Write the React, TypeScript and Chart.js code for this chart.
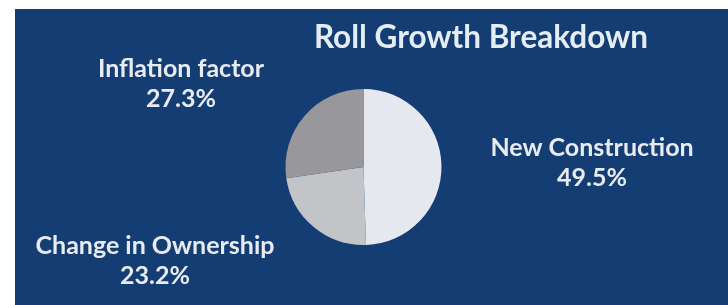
import React, { useEffect, useRef } from "react";
import { Chart, registerables } from "chart.js";

Chart.register(...registerables);

const titleText = "Roll Growth Breakdown";
const categories = ["New Construction", "Change in Ownership", "Inflation factor"];
const shares = [49.5, 23.2, 27.3];
const sliceColors = ["#e5e8ee", "#c3c4c8", "#98979c"];
// label anchor (center of the two-line label) per category
const labelAnchors = [
  { x: 592, y: 162 },
  { x: 155, y: 260 },
  { x: 181, y: 83 },
];

const panelPlugin = {
  id: "panel",
  beforeDraw(chart: any) {
    const { ctx, width, height } = chart;
    ctx.save();
    ctx.fillStyle = "#ffffff";
    ctx.fillRect(0, 0, width, height);
    ctx.fillStyle = "#143d74";
    ctx.fillRect(15, 9, width - 15, height - 9);
    ctx.restore();
  },
  afterDraw(chart: any) {
    const { ctx } = chart;
    ctx.save();
    ctx.textAlign = "center";
    ctx.textBaseline = "alphabetic";
    ctx.fillStyle = "#e3edf3";
    ctx.font = "bold 31.5px Lato";
    ctx.fillText(titleText, 481, 48);
    const labels = chart.data.labels as string[];
    const vals = chart.data.datasets[0].data as number[];
    ctx.fillStyle = "#e8ebf0";
    ctx.font = "bold 25px Lato";
    labels.forEach((lab, i) => {
      const a = labelAnchors[i];
      ctx.fillText(lab, a.x, a.y - 6);
      ctx.fillText(vals[i].toFixed(1) + "%", a.x, a.y + 24);
    });
    ctx.restore();
  },
};

export default function App() {
  const ref = useRef<HTMLCanvasElement | null>(null);
  useEffect(() => {
    document.body.style.margin = "0";
    const chart = new Chart(ref.current as HTMLCanvasElement, {
      type: "pie",
      data: {
        labels: categories,
        datasets: [
          {
            data: shares,
            backgroundColor: sliceColors,
            borderWidth: 0,
          },
        ],
      },
      options: {
        animation: false,
        responsive: false,
        events: [],
        layout: { padding: { left: 285, right: 286, top: 89, bottom: 60 } },
        plugins: {
          legend: { display: false },
          tooltip: { enabled: false },
          title: { display: false },
        },
      },
      plugins: [panelPlugin],
    });
    return () => chart.destroy();
  }, []);
  return (
    <div style={{ width: 728, height: 305 }}>
      <canvas ref={ref} width={728} height={305} style={{ display: "block" }} />
    </div>
  );
}
